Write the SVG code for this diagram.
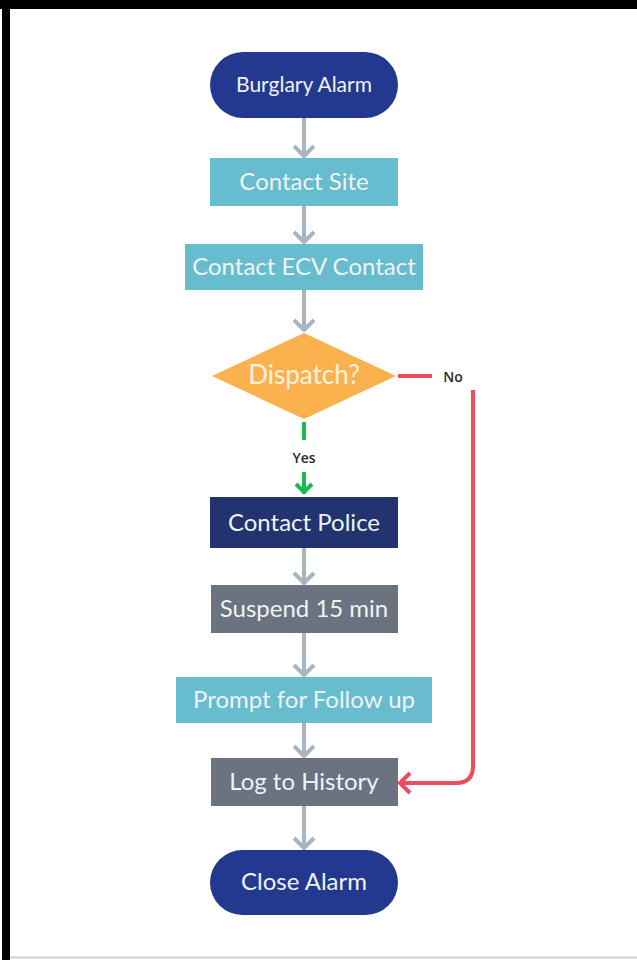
<svg xmlns="http://www.w3.org/2000/svg" width="637" height="960" viewBox="0 0 637 960">
<style>
.lbl{font-family:Lato,"Open Sans","Liberation Sans",sans-serif;font-size:24px;fill:#eef3f7;text-anchor:middle;dominant-baseline:central}
.small{font-family:"Open Sans","Liberation Sans",sans-serif;font-size:14px;font-weight:600;fill:#2a2a2a;text-anchor:middle;dominant-baseline:central}
.gray{stroke:#a9b4c1;stroke-width:4;fill:none;stroke-linecap:butt;stroke-linejoin:round}
.grn{stroke:#1db954;stroke-width:4;fill:none;stroke-linejoin:round}
.red{stroke:#ef4a5e;stroke-width:4;fill:none;stroke-linejoin:round}
</style>
<rect x="0" y="0" width="637" height="960" fill="#ffffff"/>
<rect x="0" y="0" width="637" height="9" fill="#000"/>
<rect x="2" y="0" width="8" height="960" fill="#000"/>
<line x1="10" y1="957.5" x2="637" y2="957.5" stroke="#cfcfcf" stroke-width="2"/>

<g id="connectors">
  <path class="gray" d="M304 118 V157 M294 146 L304 156 L314 146"/>
  <path class="gray" d="M304 206 V243 M294 232 L304 242 L314 232"/>
  <path class="gray" d="M304 290 V331 M294 320 L304 330 L314 320"/>
  <path class="grn" d="M304 422 V440"/>
  <path class="grn" d="M304 472 V494 M296 484 L304 492 L312 484"/>
  <path class="gray" d="M304 548 V584 M294 573 L304 583 L314 573"/>
  <path class="gray" d="M304 633 V676 M294 665 L304 675 L314 665"/>
  <path class="gray" d="M304 723 V757 M294 746 L304 756 L314 746"/>
  <path class="gray" d="M304 806 V849 M294 838 L304 848 L314 838"/>
  <path class="red" d="M398 376 H432"/>
  <path class="red" d="M473 390 V766 Q473 783 456 783 H400 M410 773 L400 783 L410 793"/>
  <text class="small" x="304" y="457">Yes</text>
  <text class="small" x="453" y="376">No</text>
</g>

<g id="burglary-alarm">
  <rect x="210" y="52" width="188" height="66" rx="33" fill="#23398f"/>
  <text class="lbl" x="304" y="83" style="font-size:21px">Burglary Alarm</text>
</g>
<g id="contact-site">
  <rect x="210" y="158" width="188" height="48" fill="#67bccd"/>
  <text class="lbl" x="304" y="180">Contact Site</text>
</g>
<g id="contact-ecv">
  <rect x="185" y="244" width="238" height="46" fill="#67bccd"/>
  <text class="lbl" x="304" y="265">Contact ECV Contact</text>
</g>
<g id="dispatch">
  <polygon points="304,333 396,376 304,419 212,376" fill="#fbb24e"/>
  <text class="lbl" x="304" y="374" style="font-size:26px;fill:#fdf3e0">Dispatch?</text>
</g>
<g id="contact-police">
  <rect x="210" y="497" width="188" height="51" fill="#22336f"/>
  <text class="lbl" x="304" y="521">Contact Police</text>
</g>
<g id="suspend">
  <rect x="211" y="585" width="187" height="48" fill="#6b7280"/>
  <text class="lbl" x="304" y="607">Suspend 15 min</text>
</g>
<g id="prompt">
  <rect x="176" y="677" width="256" height="46" fill="#67bccd"/>
  <text class="lbl" x="304" y="698">Prompt for Follow up</text>
</g>
<g id="log-history">
  <rect x="211" y="758" width="187" height="48" fill="#6b7280"/>
  <text class="lbl" x="304" y="780">Log to History</text>
</g>
<g id="close-alarm">
  <rect x="210" y="850" width="188" height="65" rx="32.5" fill="#23398f"/>
  <text class="lbl" x="304" y="880">Close Alarm</text>
</g>
</svg>
